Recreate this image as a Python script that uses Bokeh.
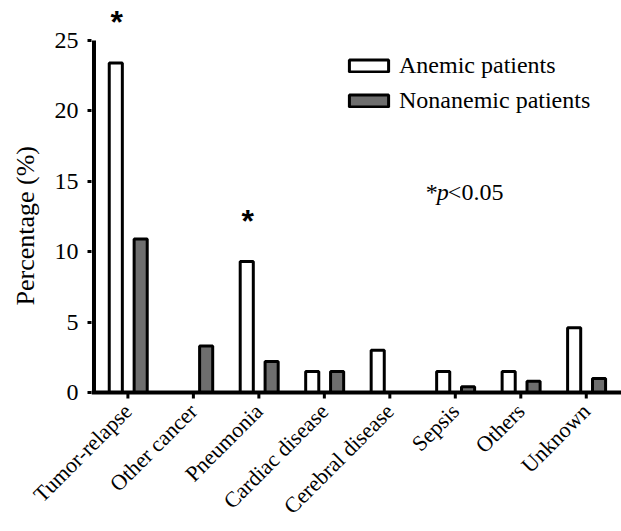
import numpy as np
from bokeh.plotting import figure
from bokeh.models import Range1d, FixedTicker, Label, Legend, LegendItem, ColumnDataSource, Title
from bokeh.embed import file_html
from bokeh.resources import INLINE
from math import pi

categories = ["Tumor-relapse", "Other cancer", "Pneumonia", "Cardiac disease",
              "Cerebral disease", "Sepsis", "Others", "Unknown"]
anemic = [23.4, 0.0, 9.3, 1.5, 3.0, 1.5, 1.5, 4.6]
nonanemic = [10.9, 3.3, 2.2, 1.5, 0.0, 0.4, 0.8, 1.0]
significant = [True, False, True, False, False, False, False, False]
y_ticks = [0, 5, 10, 15, 20, 25]
series_names = ["Anemic patients", "Nonanemic patients"]

FONT = "Liberation Serif"
OFF_A = -0.185
OFF_N = 0.195
BW = 0.2
X0, X1 = -0.556, 7.538
Y0, Y1 = -0.71, 27.27
SPINE_X = -0.518
TICK_LEN = 0.42

idx = np.arange(len(categories))
an = np.array(anemic)
na = np.array(nonanemic)

p = figure(width=621, height=531, output_backend="svg", toolbar_location=None,
           x_range=Range1d(X0, X1), y_range=Range1d(Y0, Y1),
           min_border_left=90, min_border_right=0, min_border_top=8, min_border_bottom=129)
p.outline_line_color = None
p.xgrid.visible = False
p.ygrid.visible = False
p.background_fill_color = "white"
p.border_fill_color = "white"

m1 = an > 0
m2 = na > 0
src1 = ColumnDataSource(dict(x=idx[m1] + OFF_A, top=an[m1]))
src2 = ColumnDataSource(dict(x=idx[m2] + OFF_N, top=na[m2]))
r1 = p.vbar(x="x", top="top", bottom=0, width=BW, source=src1,
            fill_color="white", line_color="black", line_width=3)
r2 = p.vbar(x="x", top="top", bottom=0, width=BW, source=src2,
            fill_color="#6e6e6e", line_color="black", line_width=3)

# axis lines drawn at the data origin
p.segment(x0=[SPINE_X], y0=[y_ticks[0]], x1=[SPINE_X], y1=[y_ticks[-1]],
          line_color="black", line_width=4)
p.segment(x0=[X0], y0=[0], x1=[X1], y1=[0], line_color="black", line_width=4)
p.segment(x0=idx, y0=np.zeros(len(idx)), x1=idx, y1=np.full(len(idx), -TICK_LEN),
          line_color="black", line_width=3)

yax = p.yaxis[0]
yax.axis_line_color = None
yax.ticker = FixedTicker(ticks=y_ticks)
yax.major_tick_line_width = 3
yax.major_tick_line_color = "black"
yax.major_tick_in = 0
yax.major_tick_out = 4
yax.minor_tick_line_color = None
yax.major_label_standoff = 9
yax.major_label_text_font = FONT
yax.major_label_text_color = "black"
yax.major_label_text_font_size = "24px"

ytitle = Title(text="Percentage (%)", align="left", vertical_align="top", offset=97, standoff=20,
               text_font=FONT, text_font_size="26px", text_font_style="normal",
               text_color="black")
p.add_layout(ytitle, "left")

xax = p.xaxis[0]
xax.axis_line_color = None
xax.ticker = FixedTicker(ticks=list(idx))
xax.major_label_overrides = {int(i): c for i, c in zip(idx, categories)}
xax.major_label_orientation = pi / 4
xax.major_tick_line_color = None
xax.major_tick_in = 0
xax.major_tick_out = 0
xax.minor_tick_line_color = None
xax.major_label_standoff = 5
xax.major_label_text_font = FONT
xax.major_label_text_color = "black"
xax.major_label_text_font_size = "22px"

# significance stars
for i, (v, s) in enumerate(zip(anemic, significant)):
    if s:
        p.add_layout(Label(x=i + OFF_A, y=v, x_offset=1, y_offset=41, text="*",
                           text_font="Liberation Sans", text_font_style="bold",
                           text_font_size="32px", text_align="center",
                           text_baseline="alphabetic", text_color="black"))

# p<0.05 note
NX, NY = 4.55, 14.22
p.add_layout(Label(x=NX, y=NY, text="*", text_font=FONT, text_font_size="24px",
                   text_baseline="alphabetic", text_color="black"))
p.add_layout(Label(x=NX, y=NY, x_offset=11, text="p", text_font=FONT, text_font_size="24px",
                   text_font_style="italic", text_baseline="alphabetic", text_color="black"))
p.add_layout(Label(x=NX, y=NY, x_offset=22, text="<0.05", text_font=FONT, text_font_size="24px",
                   text_baseline="alphabetic", text_color="black"))

legend = Legend(items=[LegendItem(label=series_names[0], renderers=[r1]),
                       LegendItem(label=series_names[1], renderers=[r2])],
                location=(253, 288), orientation="vertical")
legend.glyph_width = 49
legend.glyph_height = 15
legend.label_height = 24
legend.spacing = 8
legend.label_standoff = 6
legend.padding = 8
legend.border_line_color = None
legend.background_fill_alpha = 0
legend.label_text_font = FONT
legend.label_text_font_size = "24px"
legend.label_text_color = "black"
p.add_layout(legend)

open("out.html", "w").write(file_html(p, INLINE))
